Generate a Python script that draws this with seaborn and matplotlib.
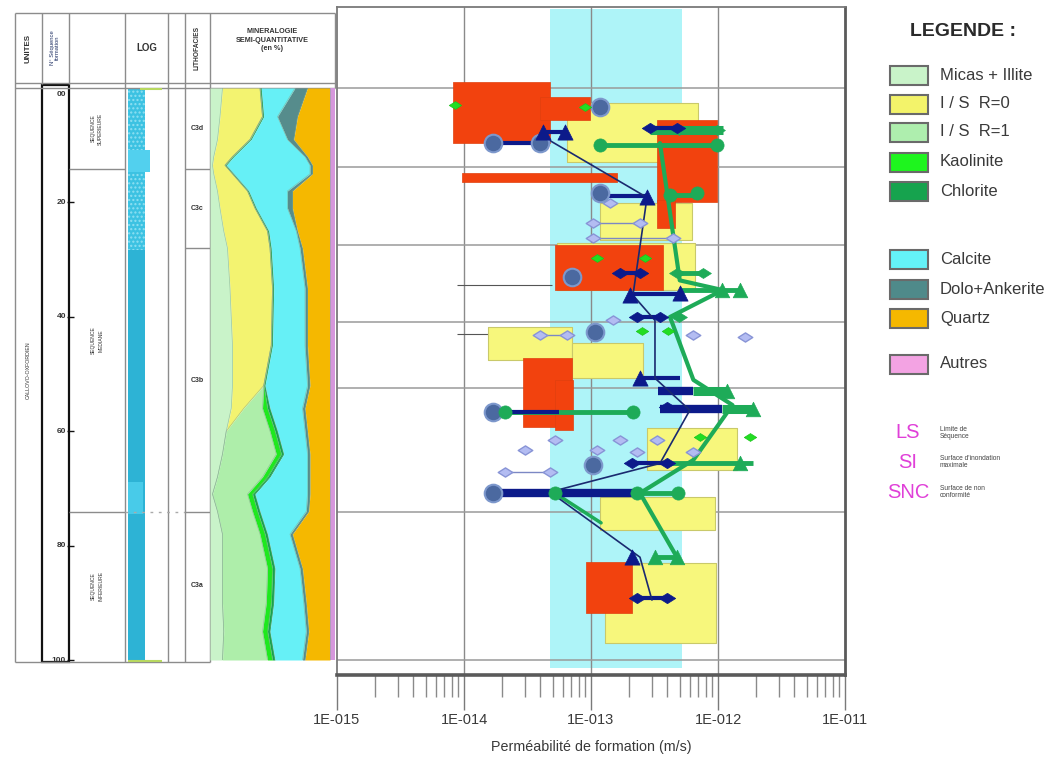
import matplotlib
matplotlib.use("Agg")

import matplotlib.pyplot as plt
import numpy as np
import seaborn as sns
from matplotlib.patches import Rectangle
from matplotlib.path import Path
from matplotlib.ticker import FixedLocator, NullFormatter

sns.set_theme(style="white")
plt.rcParams["font.family"] = ["Liberation Sans", "DejaVu Sans"]

# ---------------- mineralogy log (% per mineral vs depth) ----------------
depth_m = [0, 5, 9, 12, 13.5, 15, 18, 21, 25, 28, 35, 45, 52,
           56, 60, 64, 68, 71, 74, 78, 84, 90, 95, 100]
micas_illite = [10, 8, 6, 3, 2, 3, 6, 8, 11, 14, 16, 18, 18,
                17, 13, 10, 6, 2, 6, 10, 10, 10, 11, 10]
is_r0 = [30, 34, 26, 15, 10, 15, 24, 28, 35, 34, 34, 31, 25,
         10, 0, 0, 0, 0, 0, 0, 0, 0, 0, 0]
is_r1 = [0, 0, 0, 0, 0, 0, 0, 0, 0, 0, 0, 0, 0,
         15, 35, 43, 36, 28, 28, 30, 36, 35, 31, 36]
kaolinite = [0, 0, 0, 0, 0, 0, 0, 0, 0, 0, 0, 0, 0,
             4, 4, 4, 4, 4, 4, 4, 4, 4, 4, 4]
chlorite = [1, 1, 1, 1, 1, 1, 1, 1, 1, 1, 1, 1, 1,
            2, 2, 2, 2, 2, 2, 2, 2, 2, 2, 2]
calcite = [27, 11, 29, 57, 67, 61, 31, 25, 22, 23, 25, 26, 34,
           26, 22, 19, 30, 42, 37, 18, 20, 24, 29, 22]
dolo_ankerite = [10, 16, 5, 2, 2, 2, 4, 4, 1, 2, 2, 2, 2,
                 2, 2, 2, 2, 2, 2, 2, 2, 2, 2, 2]
quartz = [18, 26, 29, 18, 14, 14, 30, 30, 26, 22, 18, 18, 16,
          20, 18, 16, 16, 16, 17, 30, 22, 19, 17, 20]
autres = [4, 4, 4, 4, 4, 4, 4, 4, 4, 4, 4, 4, 4,
          4, 4, 4, 4, 4, 4, 4, 4, 4, 4, 4]

minerals = ["Micas + Illite", "I / S  R=0", "I / S  R=1", "Kaolinite", "Chlorite",
            "Calcite", "Dolo+Ankerite", "Quartz", "Autres"]
mineral_values = [micas_illite, is_r0, is_r1, kaolinite, chlorite,
                  calcite, dolo_ankerite, quartz, autres]
mineral_colors = ["#c9f3c9", "#f3f370", "#aeeeaa", "#1ee81e", "#16a34e",
                  "#66f0f6", "#568c8c", "#f5b800", "#d597dc"]

# ---------------- stratigraphic columns ----------------
depth_ticks = [0, 20, 40, 60, 80, 100]
depth_tick_labels = ["00", "20", "40", "60", "80", "100"]
seq_names = ["SEQUENCE\nSUPERIEURE", "SEQUENCE\nMEDIANE", "SEQUENCE\nINFERIEURE"]
seq_top = [0, 14.2, 74.1]
seq_bot = [14.2, 74.1, 100]
litho_names = ["C3d", "C3c", "C3b", "C3a"]
litho_top = [0, 14.2, 28.0, 74.1]
litho_bot = [14.2, 28.0, 74.1, 100]

# ---------------- permeability panel (m/s vs depth) ----------------
k_ticks = [1e-15, 1e-14, 1e-13, 1e-12, 1e-11]
k_tick_labels = ["1E-015", "1E-014", "1E-013", "1E-012", "1E-011"]
grid_z = [0, 13.8, 27.4, 40.9, 52.4, 74.1, 100]
calcite_band_k = [4.75e-14, 5.2e-13]

red_k_lo = [8.2e-15, 4.0e-14, 9.6e-15, 3.3e-13, 3.3e-13, 5.2e-14, 2.9e-14, 5.2e-14, 9.1e-14]
red_k_hi = [4.75e-14, 9.8e-14, 1.6e-13, 9.8e-13, 4.6e-13, 3.7e-13, 7.1e-14, 7.2e-14, 2.1e-13]
red_z_top = [-1.0, 1.6, 14.9, 5.6, 19.6, 27.4, 47.2, 51.0, 82.9]
red_z_bot = [9.6, 5.6, 16.4, 19.9, 24.5, 35.3, 59.3, 59.8, 91.8]

yel_k_lo = [6.5e-14, 1.18e-13, 5.4e-14, 1.55e-14, 7.1e-14, 2.76e-13, 1.18e-13, 1.29e-13]
yel_k_hi = [7.0e-13, 6.2e-13, 6.6e-13, 7.1e-14, 2.57e-13, 1.41e-12, 9.5e-13, 9.6e-13]
yel_z_top = [2.6, 20.1, 27.1, 41.8, 44.6, 59.4, 71.5, 83.0]
yel_z_bot = [12.9, 26.6, 35.3, 47.6, 50.7, 66.8, 77.3, 97.0]

circ_k = [1.18e-13, 1.69e-14, 4.0e-14, 1.18e-13, 7.1e-14, 1.07e-13, 1.69e-14, 1.04e-13, 1.69e-14]
circ_z = [3.3, 9.6, 9.6, 18.4, 33.0, 42.7, 56.6, 65.9, 70.8]

ntri_k = [4.2e-14, 6.2e-14, 2.76e-13, 2.03e-13, 5.0e-13, 2.43e-13, 2.1e-13]
ntri_z = [7.7, 7.7, 19.1, 36.2, 35.8, 50.7, 82.0]
ndia_k = [2.92e-13, 4.75e-13, 1.69e-13, 2.43e-13, 2.3e-13, 3.49e-13, 3.97e-13,
          2.1e-13, 3.97e-13, 2.3e-13, 3.97e-13]
ndia_z = [7.0, 7.0, 32.3, 32.3, 40.0, 40.0, 55.8, 65.6, 65.6, 89.2, 89.2]
nbar_k0 = [1.69e-14, 4.2e-14, 2.92e-13, 1.18e-13, 1.69e-13, 2.03e-13, 2.3e-13,
           2.43e-13, 1.69e-14, 2.1e-13, 2.3e-13]
nbar_k1 = [4.0e-14, 6.2e-14, 4.75e-13, 2.76e-13, 2.43e-13, 5.0e-13, 3.49e-13,
           5.0e-13, 5.6e-14, 3.97e-13, 3.97e-13]
nbar_z = [9.6, 7.7, 7.0, 18.8, 32.3, 36.0, 40.0, 50.7, 56.6, 65.6, 89.2]
nthick_k0 = [3.4e-13, 3.5e-13, 1.69e-14]
nthick_k1 = [6.4e-13, 1.07e-12, 2.3e-13]
nthick_z = [53.0, 56.1, 70.8]
nline_k = [4.3e-14, 2.76e-13, 2.14e-13, 3.19e-13, 3.19e-13, 6.0e-13, 3.49e-13,
           4.75e-14, 2.43e-13, 3.02e-13]
nline_z = [8.6, 19.1, 36.2, 40.6, 50.7, 56.3, 65.6, 70.6, 82.0, 89.5]

gcirc_k = [1.18e-13, 9.8e-13, 4.19e-13, 6.8e-13, 2.1e-14, 2.14e-13, 5.2e-14, 2.3e-13, 4.85e-13]
gcirc_z = [10.0, 10.0, 18.7, 18.4, 56.6, 56.6, 70.8, 70.8, 70.8]
gtri_k = [1.07e-12, 1.49e-12, 1.49e-12, 1.89e-12, 3.19e-13, 4.75e-13, 1.18e-12]
gtri_z = [35.3, 35.3, 65.6, 56.1, 82.0, 82.0, 53.0]
gdia_k = [4.9e-13, 9.8e-13, 4.75e-13, 7.6e-13, 4.9e-13]
gdia_z = [7.3, 7.3, 32.3, 32.3, 40.0]
ldia_k = [8.5e-15, 9.0e-14, 1.11e-13, 2.66e-13, 2.5e-13, 4.05e-13, 7.2e-13, 1.8e-12]
ldia_z = [3.0, 3.3, 29.7, 29.7, 42.4, 42.4, 61.0, 61.0]
gbar_k0 = [1.18e-13, 4.19e-13, 4.75e-13, 5.0e-13, 2.1e-14, 5.2e-14, 4.19e-13, 3.1e-13]
gbar_k1 = [9.8e-13, 6.8e-13, 7.6e-13, 1.49e-12, 2.14e-13, 4.85e-13, 1.89e-12, 4.9e-13]
gbar_z = [10.0, 18.6, 32.3, 35.3, 56.6, 70.8, 65.6, 82.0]
gthick_k0 = [2.92e-13, 6.4e-13, 1.07e-12]
gthick_k1 = [1.09e-12, 1.18e-12, 1.89e-12]
gthick_z = [7.3, 53.0, 56.1]
gline_k = [3.49e-13, 5.0e-13, 1.09e-12, 4.19e-13, 6.4e-13, 1.3e-12, 6.4e-13, 2.43e-13, 4.75e-13]
gline_z = [9.6, 33.6, 35.3, 40.0, 51.0, 55.4, 65.0, 70.8, 82.0]
gline2_k = [5.2e-14, 1.2e-13]
gline2_z = [70.8, 76.0]

lav_k = [1.41e-13, 1.04e-13, 2.43e-13, 1.04e-13, 4.42e-13, 1.49e-13, 4.0e-14, 6.5e-14,
         6.4e-13, 1.63e-12, 5.2e-14, 1.69e-13, 3.31e-13, 3.0e-14, 1.11e-13, 2.3e-13,
         6.4e-13, 2.1e-14, 4.75e-14]
lav_z = [20.1, 23.6, 23.6, 26.2, 26.2, 40.6, 43.2, 43.2, 43.2, 43.5, 61.5, 61.5,
         61.5, 63.3, 63.3, 63.6, 63.6, 67.1, 67.1]
lav_link_k0 = [1.04e-13, 1.04e-13, 4.0e-14, 2.1e-14]
lav_link_k1 = [2.43e-13, 4.42e-13, 6.5e-14, 4.75e-14]
lav_link_z = [23.6, 26.2, 43.2, 67.1]
sep_z = [34.4, 42.9]
sep_k = [8.8e-15, 4.9e-14]

legend_labels = minerals
legend_colors = ["#c9f3c9", "#f3f36a", "#aeeeae", "#1ef51e", "#16a34e",
                 "#64f2f8", "#4f8a8a", "#f5b800", "#f3a3e3"]
surface_codes = ["LS", "SI", "SNC"]
surface_texts = ["Limite de\nSéquence", "Surface d'inondation\nmaximale", "Surface de non\nconformité"]

# ---------------- figure ----------------
FIG_W, FIG_H = 1046, 760
fig = plt.figure(figsize=(FIG_W / 100, FIG_H / 100), dpi=100)


def px_axes(x0, y0, x1, y1):
    return fig.add_axes([x0 / FIG_W, 1 - y1 / FIG_H, (x1 - x0) / FIG_W, (y1 - y0) / FIG_H])


def depth_px(d):
    return 88 + d * 5.72


canvas = px_axes(0, 0, FIG_W, FIG_H)
canvas.set_xlim(0, FIG_W)
canvas.set_ylim(FIG_H, 0)
canvas.axis("off")

# header / table lines
line_c = "#8c8c8c"
canvas.hlines([13, 83, 88], 15, 335, color=line_c, lw=1)
canvas.hlines(662, 15, 210, color=line_c, lw=1)
canvas.vlines([15, 125, 168, 185, 210], 13, 662, color=line_c, lw=1)
canvas.vlines([42, 69], 13, 84, color=line_c, lw=1)
canvas.add_patch(Rectangle((42, 85), 27, 577, fill=False, ec="#111", lw=1.6))
canvas.vlines(335, 13, 88, color=line_c, lw=1)

canvas.text(28, 48, "UNITES", rotation=90, ha="center", va="center", fontsize=5.8,
            fontweight="bold", color="#333")
canvas.text(55, 48, "N° Séquence\nformation", rotation=90, ha="center", va="center",
            fontsize=4.2, color="#223366", linespacing=1.1)
canvas.text(147, 48, "LOG", ha="center", va="center", fontsize=7, fontweight="bold", color="#333")
canvas.text(197, 48, "LITHOFACIES", rotation=90, ha="center", va="center", fontsize=4.8,
            fontweight="bold", color="#333")
canvas.text(272, 40, "MINERALOGIE\nSEMI-QUANTITATIVE\n(en %)", ha="center", va="center",
            fontsize=5.2, fontweight="bold", color="#333", linespacing=1.3)

canvas.text(28, 370, "CALLOVO-OXFORDIEN", rotation=90, ha="center", va="center",
            fontsize=3.8, color="#333")

for d, lab in zip(depth_ticks, depth_tick_labels):
    yy = max(depth_px(d), 94)
    canvas.text(66, yy, lab, ha="right", va="center", fontsize=6, fontweight="bold", color="#333")
    if d > 0:
        canvas.hlines(depth_px(d), 67, 74, color="#111", lw=1)

for name, t, b in zip(seq_names, seq_top, seq_bot):
    canvas.text(97, (depth_px(t) + depth_px(b)) / 2, name, rotation=90, ha="center",
                va="center", fontsize=3.6, color="#333", linespacing=1.6)
    if b < 100:
        canvas.hlines(depth_px(b), 69, 125, color=line_c, lw=1)
canvas.hlines(depth_px(74.1), 125, 185, color="#aaa", lw=1, linestyles=(0, (2, 4)))

for name, t, b in zip(litho_names, litho_top, litho_bot):
    canvas.text(197, (depth_px(t) + depth_px(b)) / 2, name, ha="center", va="center",
                fontsize=5, fontweight="bold", color="#333")
    if b < 100:
        canvas.hlines(depth_px(b), 185, 210, color=line_c, lw=1)

# LOG column
canvas.add_patch(Rectangle((128, 88), 17, 574, color="#2db3d5", lw=0))
canvas.add_patch(Rectangle((128, 88), 17, 162, fc="#3cc2e2", ec="#8fe0f2", hatch="....", lw=0))
canvas.add_patch(Rectangle((128, 150), 22, 22, color="#52d0ee", lw=0))
canvas.add_patch(Rectangle((128, 482), 15, 32, color="#48cbe9", lw=0))
canvas.hlines(661, 128, 162, color="#b8d860", lw=1.5)
canvas.hlines(89, 140, 162, color="#b8d860", lw=1.5)

# ---------------- mineralogy stacked area ----------------
mx = px_axes(210, 88, 335, 660)
z = np.array(depth_m, dtype=float)
left = np.zeros(len(z))
for vals, col in zip(mineral_values, mineral_colors):
    right = left + np.array(vals, dtype=float)
    mx.fill_betweenx(z, left, right, color=col, linewidth=0)
    left = right
left = np.zeros(len(z))
for vals in mineral_values[:-1]:
    left = left + np.array(vals, dtype=float)
    sns.lineplot(x=left, y=z, ax=mx, sort=False, estimator=None, color="#7faa8a",
                 lw=0.5, alpha=0.6)
mx.set_xlim(0, 100)
mx.set_ylim(100, 0)
mx.axis("off")

# ---------------- permeability panel ----------------
ax = px_axes(337, 7, 845, 675)
ax.set_xscale("log")
ax.set_facecolor("white")

ax.axvspan(calcite_band_k[0], calcite_band_k[1], ymin=0.01, ymax=0.997,
           color="#aef4f8", lw=0, zorder=0.5)
for k in k_ticks[1:-1]:
    ax.axvline(k, color="#8a8a8a", lw=1, zorder=1)
for gz in grid_z:
    ax.axhline(gz, color="#9a9a9a", lw=1.1, zorder=1)
ax.hlines(sep_z, sep_k[0], sep_k[1], color="#555", lw=0.8, zorder=1.2)

for k0, k1, t, b in zip(yel_k_lo, yel_k_hi, yel_z_top, yel_z_bot):
    ax.fill_betweenx([t, b], k0, k1, facecolor="#f7f77c", edgecolor="#c9c96a", lw=0.8, zorder=2)
for k0, k1, t, b in zip(red_k_lo, red_k_hi, red_z_top, red_z_bot):
    ax.fill_betweenx([t, b], k0, k1, facecolor="#f2420e", edgecolor="#e0400e", lw=0.5, zorder=2.2)

navy = "#0c1a8a"
green = "#1eab58"
diamond = Path([(-1.35, 0), (0, 0.85), (1.35, 0), (0, -0.85), (-1.35, 0)],
               [Path.MOVETO, Path.LINETO, Path.LINETO, Path.LINETO, Path.CLOSEPOLY])

ax.hlines(lav_link_z, lav_link_k0, lav_link_k1, color="#7c88c4", lw=1, zorder=3)
ax.hlines(gbar_z, gbar_k0, gbar_k1, color=green, lw=3.5, zorder=3.2)
ax.hlines(gthick_z, gthick_k0, gthick_k1, color=green, lw=6.5, zorder=3.2)
sns.lineplot(x=gline_k, y=gline_z, ax=ax, sort=False, estimator=None, color=green, lw=3, zorder=3.3)
sns.lineplot(x=gline2_k, y=gline2_z, ax=ax, sort=False, estimator=None, color=green, lw=2.5, zorder=3.3)
ax.hlines(nbar_z, nbar_k0, nbar_k1, color=navy, lw=3, zorder=3.5)
ax.hlines(nthick_z, nthick_k0, nthick_k1, color=navy, lw=6, zorder=3.5)
sns.lineplot(x=nline_k, y=nline_z, ax=ax, sort=False, estimator=None, color="#1a2a70", lw=1.2, zorder=3.6)

sns.scatterplot(x=lav_k, y=lav_z, ax=ax, marker=diamond, s=110, color="#b3bcf2",
                edgecolor="#8894d6", linewidth=1, zorder=4, legend=False)
sns.scatterplot(x=circ_k, y=circ_z, ax=ax, marker="o", s=160, color="#4b69a0",
                edgecolor="#7d98cc", linewidth=1.5, zorder=4, legend=False)
sns.scatterplot(x=gcirc_k, y=gcirc_z, ax=ax, marker="o", s=90, color=green,
                edgecolor=green, linewidth=0.5, zorder=5, legend=False)
sns.scatterplot(x=gtri_k, y=gtri_z, ax=ax, marker="^", s=110, color=green,
                edgecolor=green, linewidth=0.5, zorder=5, legend=False)
sns.scatterplot(x=gdia_k, y=gdia_z, ax=ax, marker=diamond, s=130, color=green,
                edgecolor=green, linewidth=0.5, zorder=5, legend=False)
sns.scatterplot(x=ldia_k, y=ldia_z, ax=ax, marker=diamond, s=80, color="#22dd22",
                edgecolor="#1cc41c", linewidth=0.5, zorder=5, legend=False)
sns.scatterplot(x=ntri_k, y=ntri_z, ax=ax, marker="^", s=120, color=navy,
                edgecolor=navy, linewidth=0.5, zorder=6, legend=False)
sns.scatterplot(x=ndia_k, y=ndia_z, ax=ax, marker=diamond, s=140, color=navy,
                edgecolor=navy, linewidth=0.5, zorder=6, legend=False)

ax.set_xlim(1e-15, 1e-11)
ax.set_ylim(102.6, -14.2)
ax.set_xticks(k_ticks)
ax.set_xticklabels(k_tick_labels)
ax.xaxis.set_minor_locator(FixedLocator([m * 10.0 ** e for e in range(-15, -11) for m in range(2, 10)]))
ax.xaxis.set_minor_formatter(NullFormatter())
ax.set_yticks([])
ax.tick_params(axis="x", which="major", bottom=True, direction="out", length=25, width=1,
               color="#7a7a7a", pad=2, labelsize=10.5, labelcolor="#3a3a3a")
ax.tick_params(axis="x", which="minor", bottom=True, direction="out", length=16, width=1,
               color="#8a8a8a")
ax.set_xlabel("Perméabilité de formation (m/s)", fontsize=10.3, color="#3a3a3a")
ax.xaxis.set_label_coords(0.5, -0.098)
ax.set_ylabel("")
for side, lw in [("bottom", 2.6), ("right", 2.0), ("top", 1.3), ("left", 1.3)]:
    ax.spines[side].set_visible(True)
    ax.spines[side].set_linewidth(lw)
    ax.spines[side].set_color("#5a5a5a" if side in ("bottom", "right") else "#7a7a7a")

# ---------------- legend ----------------
canvas.text(963, 31, "LEGENDE :", ha="center", va="center", fontsize=14,
            fontweight="bold", color="#2a2a2a")
row_y = [75, 104, 132, 162, 191, 259, 289, 318, 364]
for yc, lab, col in zip(row_y, legend_labels, legend_colors):
    canvas.add_patch(Rectangle((890, yc - 9.5), 38, 19, fc=col, ec="#6a6a6a", lw=1.5))
    canvas.text(940, yc, lab, ha="left", va="center", fontsize=12, color="#3a3a3a")

for yc, code, txt in zip([433, 462, 492], surface_codes, surface_texts):
    canvas.text(908, yc, code, ha="center", va="center", fontsize=14.5, color="#e040d8")
    canvas.text(940, yc, txt, ha="left", va="center", fontsize=4.8, color="#444",
                linespacing=1.0)

fig.savefig("out.png", dpi=100)
plt.close(fig)
